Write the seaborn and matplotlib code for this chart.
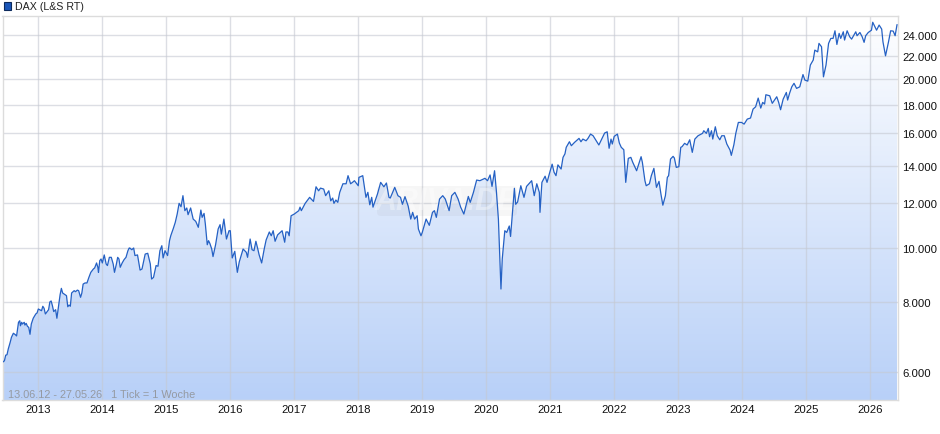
import numpy as np
import matplotlib
matplotlib.use('Agg')
import matplotlib.pyplot as plt
from matplotlib.colors import LinearSegmentedColormap
from matplotlib.patches import FancyBboxPatch, Rectangle
from matplotlib.transforms import IdentityTransform
import seaborn as sns

# Kursverlauf (Jahr als Dezimalzahl, Punkte)
years_2012_14 = [2012.44, 2012.47, 2012.49, 2012.51, 2012.53, 2012.56, 2012.58, 2012.61, 2012.64, 2012.66,
                 2012.69, 2012.71, 2012.72, 2012.74, 2012.75, 2012.78, 2012.79, 2012.81, 2012.83, 2012.85,
                 2012.87, 2012.89, 2012.92, 2012.96, 2012.98, 2013.00, 2013.03, 2013.05, 2013.07, 2013.09,
                 2013.11, 2013.13, 2013.16, 2013.18, 2013.20, 2013.22, 2013.24, 2013.27, 2013.29, 2013.32,
                 2013.34, 2013.36, 2013.38, 2013.41, 2013.44, 2013.46, 2013.48, 2013.50, 2013.52, 2013.56,
                 2013.58, 2013.61, 2013.63, 2013.66, 2013.68, 2013.70, 2013.73, 2013.76, 2013.79, 2013.82,
                 2013.86, 2013.88, 2013.91, 2013.93, 2013.94, 2013.96, 2013.98, 2014.00, 2014.03, 2014.06,
                 2014.08, 2014.11, 2014.14, 2014.17, 2014.19, 2014.22, 2014.24, 2014.26, 2014.28, 2014.31,
                 2014.34, 2014.37, 2014.40, 2014.42]
values_2012_14 = [6244, 6283, 6430, 6440, 6595, 6778, 6920, 7035, 6995, 6957,
                  7358, 7406, 7254, 7358, 7306, 7358, 7275, 7327, 7237, 7208,
                  7005, 7306, 7482, 7615, 7647, 7772, 7740, 7718, 7860, 7794,
                  7615, 7668, 7750, 8000, 8033, 7880, 7690, 7750, 7482, 7943,
                  8240, 8460, 8300, 8255, 8210, 7845, 7900, 7860, 8300, 8380,
                  8345, 8400, 8380, 8155, 8300, 8610, 8650, 8650, 8850, 9035,
                  9160, 9200, 9390, 9225, 9035, 9480, 9545, 9390, 9705, 9350,
                  9290, 9610, 9610, 9350, 9035, 9350, 9610, 9545, 9225, 9390,
                  9520, 9610, 9875, 9985]

years_2014_16 = [2014.43, 2014.46, 2014.49, 2014.51, 2014.55, 2014.59, 2014.62, 2014.67, 2014.71, 2014.75,
                 2014.77, 2014.80, 2014.84, 2014.87, 2014.90, 2014.93, 2014.95, 2014.98, 2015.02, 2015.05,
                 2015.07, 2015.11, 2015.14, 2015.17, 2015.20, 2015.23, 2015.26, 2015.29, 2015.32, 2015.34,
                 2015.38, 2015.42, 2015.46, 2015.50, 2015.54, 2015.56, 2015.59, 2015.61, 2015.64, 2015.66,
                 2015.68, 2015.71, 2015.73, 2015.77, 2015.81, 2015.84, 2015.86, 2015.90, 2015.94, 2015.98,
                 2016.00, 2016.03, 2016.07, 2016.11, 2016.14, 2016.20, 2016.25, 2016.27, 2016.31, 2016.34,
                 2016.37, 2016.40, 2016.43, 2016.45]
values_2014_16 = [9985, 9915, 9985, 9680, 9705, 9120, 9160, 9740, 9770, 9350,
                  8790, 8850, 9290, 9265, 9875, 10080, 9585, 9875, 9680, 10290,
                  10505, 10825, 11095, 11480, 11995, 11830, 12380, 11640, 11770, 11450,
                  11770, 11245, 11140, 10870, 11670, 11325, 11510, 11020, 10120, 10290,
                  10180, 9943, 9640, 10120, 10794, 10990, 10570, 11245, 10360, 10720,
                  10720, 9585, 9850, 9035, 9430, 9943, 9810, 9610, 10360, 9915,
                  9875, 10265, 9943, 9715]

years_2016_18 = [2016.49, 2016.53, 2016.56, 2016.61, 2016.64, 2016.67, 2016.70, 2016.74, 2016.81, 2016.85,
                 2016.87, 2016.90, 2016.92, 2016.95, 2017.00, 2017.07, 2017.09, 2017.11, 2017.17, 2017.24,
                 2017.30, 2017.34, 2017.38, 2017.41, 2017.46, 2017.49, 2017.54, 2017.57, 2017.60, 2017.62,
                 2017.65, 2017.68, 2017.71, 2017.76, 2017.81, 2017.84, 2017.88, 2017.91, 2017.94, 2018.00,
                 2018.01, 2018.07, 2018.12, 2018.15, 2018.18, 2018.21, 2018.23, 2018.30, 2018.35, 2018.40,
                 2018.44, 2018.48]
values_2016_18 = [9390, 9943, 10320, 10665, 10500, 10720, 10265, 10540, 10720, 10225,
                  10665, 10665, 10500, 11400, 11480, 11640, 11810, 11640, 11995, 12295,
                  12090, 12840, 12630, 12770, 12720, 12380, 12630, 12120, 12260, 11995,
                  12160, 12045, 12550, 13000, 13000, 13440, 13000, 13075, 13165, 12895,
                  13345, 13440, 12295, 12550, 11925, 12295, 11810, 12465, 13075, 12840,
                  13040, 12295]

years_2018_21 = [2018.50, 2018.57, 2018.62, 2018.66, 2018.69, 2018.73, 2018.78, 2018.82, 2018.85, 2018.88,
                 2018.92, 2018.94, 2018.98, 2019.00, 2019.06, 2019.11, 2019.16, 2019.19, 2019.22, 2019.27,
                 2019.32, 2019.36, 2019.42, 2019.46, 2019.51, 2019.56, 2019.60, 2019.65, 2019.72, 2019.75,
                 2019.80, 2019.85, 2019.90, 2019.98, 2020.02, 2020.06, 2020.09, 2020.13, 2020.16, 2020.19,
                 2020.23, 2020.25, 2020.29, 2020.32, 2020.36, 2020.38, 2020.44, 2020.46, 2020.49, 2020.54,
                 2020.59, 2020.63, 2020.71, 2020.75, 2020.79, 2020.83, 2020.84, 2020.87, 2020.92, 2020.95,
                 2020.99, 2021.03, 2021.06, 2021.09, 2021.12, 2021.17, 2021.20, 2021.23]
values_2018_21 = [12260, 12810, 12380, 12295, 11950, 12330, 11860, 11245, 11560, 11245,
                  11400, 10794, 10500, 10645, 11245, 10960, 11560, 11640, 11325, 12209,
                  12380, 12209, 11640, 12380, 12550, 12209, 11810, 11480, 12340, 12045,
                  12550, 13200, 13165, 13295, 13165, 13480, 12860, 13715, 12550, 11245,
                  8437, 9543, 10720, 10645, 10930, 10470, 12760, 11950, 12060, 12895,
                  12295, 12860, 13165, 12380, 13000, 12550, 11560, 13075, 13410, 13075,
                  13590, 14090, 13630, 13440, 14050, 13810, 14490, 14700]

years_2021_22 = [2021.25, 2021.30, 2021.33, 2021.38, 2021.45, 2021.48, 2021.51, 2021.56, 2021.59, 2021.63,
                 2021.67, 2021.72, 2021.76, 2021.81, 2021.85, 2021.89, 2021.92, 2021.95, 2021.97, 2022.00,
                 2022.05, 2022.08, 2022.11, 2022.15, 2022.18, 2022.22, 2022.26, 2022.29, 2022.35, 2022.42,
                 2022.44, 2022.48, 2022.50, 2022.55]
values_2021_22 = [15100, 15450, 15200, 15410, 15665, 15450, 15620, 15510, 15665, 15945,
                  15835, 15510, 15245, 15665, 16010, 16095, 15040, 15620, 15305, 15795,
                  15945, 15370, 15100, 14950, 13075, 14430, 14490, 14195, 13715, 14530,
                  14195, 13165, 12895, 13000]

years_2022_24 = [2022.58, 2022.62, 2022.66, 2022.70, 2022.73, 2022.76, 2022.80, 2022.83, 2022.85, 2022.88,
                 2022.92, 2022.94, 2022.97, 2023.01, 2023.04, 2023.06, 2023.10, 2023.14, 2023.18, 2023.22,
                 2023.26, 2023.31, 2023.38, 2023.40, 2023.44, 2023.47, 2023.49, 2023.52, 2023.54, 2023.58,
                 2023.61, 2023.65, 2023.68, 2023.72, 2023.76, 2023.81, 2023.83, 2023.87, 2023.90, 2023.94,
                 2023.99, 2024.03, 2024.08, 2024.13, 2024.17, 2024.21, 2024.25, 2024.29, 2024.32, 2024.35,
                 2024.37, 2024.43, 2024.47, 2024.54, 2024.57]
values_2022_24 = [13440, 13850, 12810, 13130, 12465, 11905, 12380, 13345, 13440, 14389,
                  14550, 14450, 13905, 13945, 15100, 15140, 15350, 15245, 15575, 14790,
                  15620, 15835, 15990, 16165, 15990, 16320, 15770, 16165, 15620, 16430,
                  15835, 15575, 15835, 15835, 15305, 14930, 14610, 15260, 15990, 16725,
                  16725, 16610, 16957, 17030, 17668, 17835, 18485, 17740, 18160, 18035,
                  18740, 18660, 18090, 18585, 18160]

years_2024_26 = [2024.60, 2024.64, 2024.69, 2024.71, 2024.74, 2024.775, 2024.81, 2024.85, 2024.90, 2024.95,
                 2024.98, 2025.025, 2025.065, 2025.11, 2025.135, 2025.18, 2025.20, 2025.24, 2025.27, 2025.31,
                 2025.35, 2025.385, 2025.42, 2025.45, 2025.48, 2025.515, 2025.54, 2025.58, 2025.60, 2025.64,
                 2025.68, 2025.71, 2025.775, 2025.795, 2025.84, 2025.875, 2025.905, 2025.93, 2025.97, 2026.02,
                 2026.04, 2026.10, 2026.14, 2026.18, 2026.20, 2026.24, 2026.285, 2026.32, 2026.36, 2026.39,
                 2026.42]
values_2024_26 = [17620, 18400, 18920, 18335, 18845, 19360, 19640, 19235, 19360, 20360,
                  19900, 19820, 21170, 21610, 22510, 22350, 23140, 22820, 20170, 21170,
                  23140, 23620, 23620, 24370, 23040, 24110, 23620, 24270, 23460, 24370,
                  23780, 23550, 24270, 23880, 24200, 23780, 23240, 23880, 24200, 24430,
                  25240, 24430, 24950, 24541, 23290, 21990, 23240, 24370, 24340, 23880,
                  25000]

years = (years_2012_14 + years_2014_16 + years_2016_18 + years_2018_21
         + years_2021_22 + years_2022_24 + years_2024_26)
values = (values_2012_14 + values_2014_16 + values_2016_18 + values_2018_21
          + values_2021_22 + values_2022_24 + values_2024_26)

y_ticks = [6000, 8000, 10000, 12000, 14000, 16000, 18000, 20000, 22000, 24000]
y_labels = ['6.000', '8.000', '10.000', '12.000', '14.000', '16.000', '18.000', '20.000', '22.000', '24.000']
x_ticks = [2013, 2014, 2015, 2016, 2017, 2018, 2019, 2020, 2021, 2022, 2023, 2024, 2025, 2026]

sns.set_style('white')
plt.rcParams['font.family'] = ['Liberation Sans', 'DejaVu Sans']

W, H = 940, 435
L, R, T, B = 2.5, 898.0, 16.5, 401.0

fig = plt.figure(figsize=(W / 100, H / 100), dpi=100)
ax = fig.add_axes([L / W, 1 - B / H, (R - L) / W, (B - T) / H])

# Linie ueber seaborn, log. Achse wie im Original
ax.set_yscale('log')
sns.lineplot(x=years, y=values, ax=ax, color='#2561c4', linewidth=0.9,
             estimator=None, sort=False, zorder=5)

x_min, x_max = 2012.44, 2026.435
y_min, y_max = 5348, 25950

# Flaeche mit Farbverlauf, auf das Polygon unter der Linie geschnitten
poly = ax.fill_between(years, values, y_min, facecolor='none', edgecolor='none')
cmap = LinearSegmentedColormap.from_list('fade', ['#ffffff', '#b8d0f8'])
grad = np.linspace(0, 1, 256).reshape(-1, 1)
im = ax.imshow(grad, cmap=cmap, extent=(0, 1, 0, 1), transform=ax.transAxes,
               aspect='auto', origin='upper', zorder=1)
im.set_clip_path(poly.get_paths()[0], transform=ax.transData)

ax.set_xlim(x_min, x_max)
ax.set_ylim(y_min, y_max)

ax.set_xticks(x_ticks)
ax.set_xticklabels([str(y) for y in x_ticks])
ax.set_yticks(y_ticks)
ax.set_yticklabels(y_labels)
ax.minorticks_off()
ax.yaxis.tick_right()
ax.tick_params(axis='both', length=0, labelsize=8.2, labelcolor='#111111')
ax.tick_params(axis='x', pad=3)
ax.tick_params(axis='y', pad=3)

ax.grid(True, color='#c5c9d2', alpha=0.6, linewidth=1.0)
ax.set_axisbelow(False)
for line in ax.get_xgridlines() + ax.get_ygridlines():
    line.set_zorder(2)
for spine in ax.spines.values():
    spine.set_visible(True)
    spine.set_color('#dcdcdc')
    spine.set_linewidth(1.0)
    spine.set_zorder(3)

# Wasserzeichen (Pixelkoordinaten, Ursprung unten links)
mark = FancyBboxPatch((377, H - 217), 140, 30, boxstyle='round,pad=0,rounding_size=4',
                      transform=IdentityTransform(), facecolor='#808080', alpha=0.07,
                      edgecolor='none', zorder=3, clip_on=False)
ax.add_patch(mark)
ax.text(446 / W, 1 - 202 / H, 'ARIVA.DE', transform=fig.transFigure, color='white', alpha=0.35,
        fontsize=22, fontweight='bold', fontstyle='italic', ha='center', va='center', zorder=3)

# Legende oben links
fig.add_artist(Rectangle((3.5 / W, 1 - 10.5 / H), 7.5 / W, 7.5 / H, transform=fig.transFigure,
                         facecolor='#1a56b8', edgecolor='#0d2a5c', linewidth=0.8))
fig.text(15 / W, 1 - 6.5 / H, 'DAX (L&S RT)', fontsize=7.7, color='#222222', va='center', ha='left')

# Zeitraum unten links
ax.text(8 / W, 1 - 395 / H, '13.06.12 - 27.05.26   1 Tick = 1 Woche', transform=fig.transFigure,
        fontsize=7.8, color='#8c8c8c', alpha=0.8, va='center', ha='left', zorder=6)

fig.savefig('out.png', dpi=100, facecolor='white')
